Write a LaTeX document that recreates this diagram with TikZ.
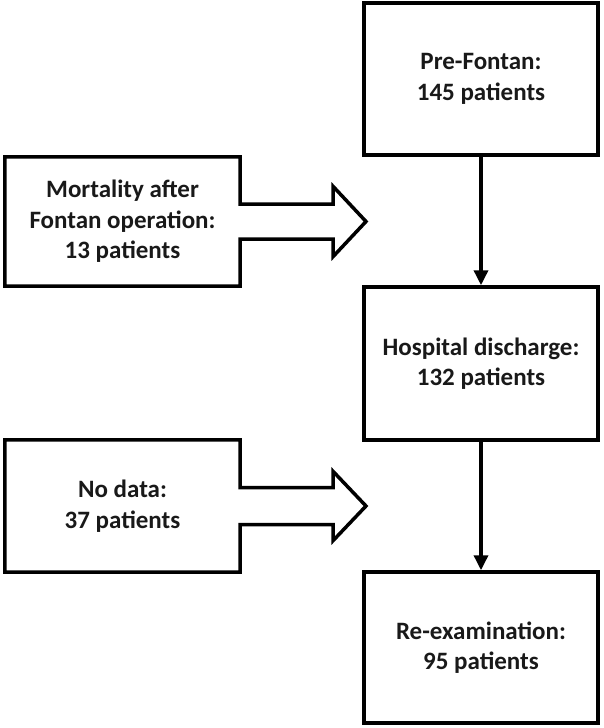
\documentclass[tikz,border=0pt]{standalone}
\usepackage{fontspec}
\setmainfont{Carlito}
\usetikzlibrary{arrows.meta,calc}
\begin{document}
\begin{tikzpicture}[x=1pt,y=-1pt,
  box/.style={draw=black,line width=3.5pt,minimum width=234pt,align=center,font=\bfseries\fontsize{25}{30.5}\selectfont,inner sep=0pt,text=black!90},
  sidebox/.style={draw=none,minimum width=235pt,align=center,font=\bfseries\fontsize{25}{30.5}\selectfont,inner sep=0pt,text=black!90},
  outline/.style={draw=black,line width=3.5pt,line join=miter},
  flow/.style={draw=black,line width=3.5pt,-{Triangle[length=15pt,width=14pt]}}]
\useasboundingbox (0,0) rectangle (603,728);
\node[box,minimum height=152pt] (pre) at (481,79) {Pre-Fontan:\\145 patients};
\node[box,minimum height=153pt] (hosp) at (481,363.5) {Hospital discharge:\\132 patients};
\node[box,minimum height=151pt] (reex) at (481,647.5) {Re-examination:\\95 patients};
\node[sidebox,minimum height=129pt] (mort) at (122.5,221.5) {Mortality after\\Fontan operation:\\13 patients};
\node[sidebox,minimum height=132pt] (nodata) at (122.5,506) {No data:\\37 patients};
\draw[flow] (pre.south) -- (hosp.north);
\draw[flow] (hosp.south) -- (reex.north);
\coordinate (mtip) at (366,221.5);
\coordinate (ntip) at (366,506);
\draw[outline] (mort.north east) -- (mort.north west) -- (mort.south west) -- (mort.south east)
  -- ($(mort.east)+(0,17.5)$) -- ($(mort.east)+(93,17.5)$) -- ($(mort.east)+(93,35)$) -- (mtip)
  -- ($(mort.east)+(93,-35)$) -- ($(mort.east)+(93,-17.5)$) -- ($(mort.east)+(0,-17.5)$) -- cycle;
\draw[outline] (nodata.north east) -- (nodata.north west) -- (nodata.south west) -- (nodata.south east)
  -- ($(nodata.east)+(0,18.5)$) -- ($(nodata.east)+(93,18.5)$) -- ($(nodata.east)+(93,34.5)$) -- (ntip)
  -- ($(nodata.east)+(93,-34.5)$) -- ($(nodata.east)+(93,-18.5)$) -- ($(nodata.east)+(0,-18.5)$) -- cycle;
\end{tikzpicture}
\end{document}
